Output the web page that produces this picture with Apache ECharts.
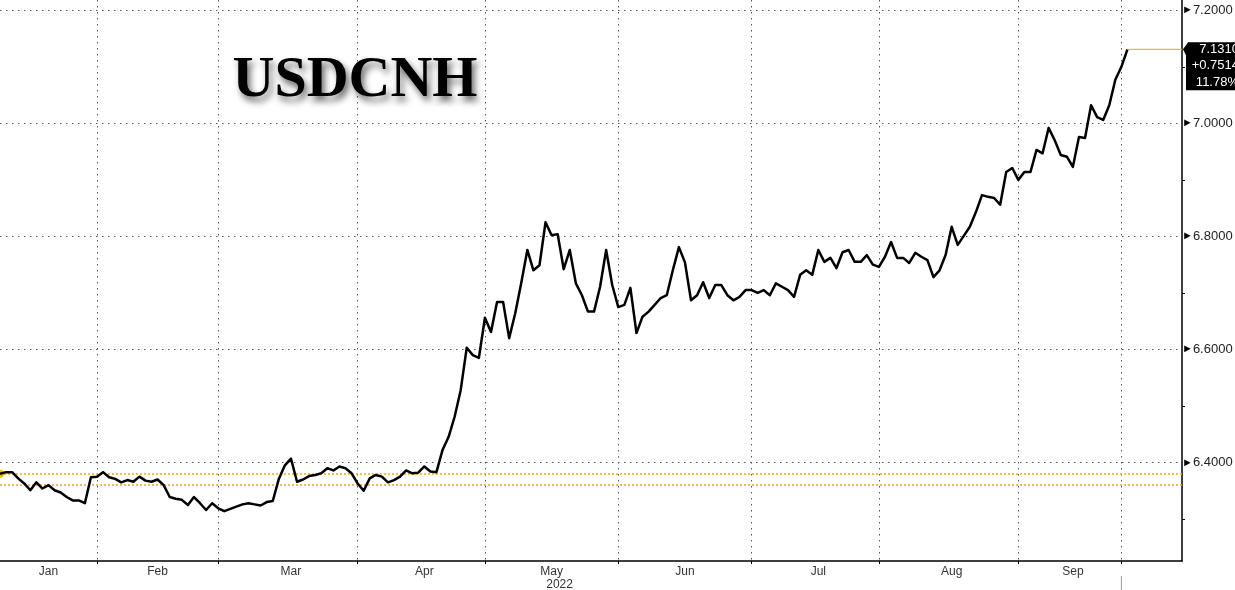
<!DOCTYPE html>
<html><head><meta charset="utf-8">
<script src="https://cdn.jsdelivr.net/npm/echarts@6/dist/echarts.min.js"></script>
<style>html,body{margin:0;padding:0;background:#fff}#c{width:1235px;height:590px}</style>
</head><body><div id="c"></div>
<script>
const chartTitle = 'USDCNH';
const yearLabel = '2022';
const startDate = '2022-01-10';
const totalSlots = 196;
const markerIndex = 185;
const monthNames = ['Jan','Feb','Mar','Apr','May','Jun','Jul','Aug','Sep','Oct','Nov','Dec'];
const values = [
6.380,6.383,6.383,6.372,6.363,6.351,6.365,6.354,6.360,6.351,
6.347,6.339,6.333,6.333,6.328,6.374,6.375,6.383,6.374,6.371,
6.365,6.369,6.366,6.375,6.368,6.366,6.370,6.360,6.339,6.336,
6.334,6.325,6.339,6.328,6.316,6.328,6.319,6.314,6.318,6.322,
6.326,6.328,6.326,6.324,6.330,6.332,6.371,6.395,6.407,6.366,
6.370,6.376,6.378,6.381,6.390,6.386,6.393,6.390,6.381,6.363,
6.350,6.372,6.378,6.375,6.365,6.369,6.375,6.386,6.381,6.382,
6.393,6.384,6.383,6.422,6.445,6.481,6.528,6.603,6.590,6.585,
6.656,6.631,6.684,6.684,6.620,6.664,6.718,6.776,6.740,6.749,
6.825,6.802,6.804,6.742,6.776,6.717,6.696,6.667,6.667,6.711,
6.776,6.714,6.675,6.679,6.709,6.629,6.658,6.667,6.679,6.691,
6.696,6.740,6.781,6.754,6.687,6.696,6.719,6.691,6.714,6.714,
6.696,6.687,6.693,6.705,6.705,6.700,6.705,6.696,6.717,6.711,
6.705,6.693,6.732,6.740,6.732,6.776,6.755,6.762,6.744,6.772,
6.776,6.755,6.755,6.767,6.750,6.746,6.764,6.790,6.762,6.762,
6.753,6.771,6.764,6.758,6.728,6.740,6.767,6.817,6.785,6.801,
6.817,6.843,6.873,6.870,6.868,6.856,6.914,6.921,6.900,6.914,
6.914,6.953,6.947,6.992,6.970,6.944,6.941,6.923,6.976,6.974,
7.032,7.011,7.006,7.032,7.077,7.100,7.131
];
const refLines = [6.3796, 6.3605];
const lastValueText = '7.1310';
const changeText = '+0.7514';
const pctText = '11.78%';
const yMajorTicks = [6.4, 6.6, 6.8, 7.0, 7.2];
const yMinorTicks = [6.3, 6.5, 6.7, 6.9, 7.1];
const yMin = 6.2258, yMax = 7.2182;

// weekday calendar
const dates = [];
{
  const d = new Date(startDate + 'T00:00:00Z');
  while (dates.length < totalSlots) {
    const w = d.getUTCDay();
    if (w !== 0 && w !== 6) dates.push(d.toISOString().slice(0, 10));
    d.setUTCDate(d.getUTCDate() + 1);
  }
}
const boundaries = new Set();
const labelMap = new Map();
{
  let s = 0;
  for (let i = 1; i <= dates.length; i++) {
    const changed = i === dates.length || dates[i].slice(5, 7) !== dates[i - 1].slice(5, 7);
    if (changed) {
      if (s < markerIndex) {
        const e = Math.min(i, markerIndex);
        const m = monthNames[parseInt(dates[s].slice(5, 7), 10) - 1];
        labelMap.set(Math.round((s + e) / 2), m);
        if (i < markerIndex) boundaries.add(i);
      }
      s = i;
    }
  }
  boundaries.add(markerIndex);
}
const lastIdx = values.length - 1;
const lastValue = values[lastIdx];

const dotted = { color: '#555', width: 1, type: [1.5, 4.5] };
const endLine = { color: '#e8c200', width: 1, type: 'solid' };
const chart = echarts.init(document.getElementById('c'), null, { renderer: 'canvas' });
chart.setOption({
  animation: false,
  backgroundColor: '#fff',
  textStyle: { fontFamily: '"Liberation Sans", Arial, sans-serif' },
  grid: { left: 0, right: 53, top: 0, bottom: 29, containLabel: false, outerBoundsMode: 'none' },
  xAxis: {
    type: 'category', data: dates, boundaryGap: false,
    axisLine: { lineStyle: { color: '#000', width: 1.5 } },
    axisTick: { interval: (i) => boundaries.has(i), length: 3, lineStyle: { color: '#000' } },
    axisLabel: {
      interval: (i) => labelMap.has(i),
      margin: 4, fontSize: 12, color: '#333', lineHeight: 13, hideOverlap: false,
      formatter: (v, i) => {
        const m = labelMap.get(i) || '';
        return m === 'May' ? m + '\n{yr|' + yearLabel + '}' : m;
      },
      rich: { yr: { fontSize: 12, color: '#333', padding: [0, 0, 0, 16], lineHeight: 13 } }
    },
    splitLine: { show: true, interval: (i) => boundaries.has(i), lineStyle: dotted }
  },
  yAxis: [
    {
      type: 'value', position: 'right', min: yMin, max: yMax,
      axisLine: { show: true, lineStyle: { color: '#000', width: 1.5 } },
      axisTick: { show: false, customValues: yMajorTicks },
      axisLabel: {
        customValues: yMajorTicks, margin: 0, fontSize: 13, color: '#222',
        formatter: (v) => '{t|\u25BA}' + Number(v).toFixed(4),
        rich: { t: { fontSize: 11, color: '#000', padding: [0, 0, 0, 0] } }
      },
      splitLine: { show: true, lineStyle: dotted }
    },
    {
      type: 'value', position: 'right', min: yMin, max: yMax,
      axisLine: { show: false },
      axisTick: { show: true, customValues: yMinorTicks, length: 3, lineStyle: { color: '#000' } },
      axisLabel: { show: false },
      splitLine: { show: false }
    }
  ],
  series: [{
    type: 'line', data: values, yAxisIndex: 0, showSymbol: false, symbol: 'none',
    lineStyle: { color: '#000', width: 2.5, join: 'round' }, z: 5,
    markLine: {
      silent: true, symbol: 'none', animation: false, label: { show: false },
      data: [
        { yAxis: refLines[0], lineStyle: { color: '#f0b000', width: 1.5, type: [2, 2] } },
        { yAxis: refLines[1], lineStyle: { color: '#f0a020', width: 1.5, type: [2, 2] } },
        [{ coord: [dates[lastIdx], lastValue], lineStyle: endLine },
         { coord: [dates[totalSlots - 1], lastValue], lineStyle: endLine }]
      ]
    },
    markPoint: {
      silent: true, symbol: 'circle', symbolSize: 8, label: { show: false },
      itemStyle: { color: '#e8c000' },
      data: [{ coord: [dates[0], values[0]] }]
    }
  }]
});

const py = chart.convertToPixel({ yAxisIndex: 0 }, lastValue);
const gx = chart.convertToPixel({ xAxisIndex: 0 }, dates[totalSlots - 1]);
const mx = chart.convertToPixel({ xAxisIndex: 0 }, dates[markerIndex]);
const axisY = chart.convertToPixel({ yAxisIndex: 0 }, yMin);
const boxFont = '13px "Liberation Sans", Arial, sans-serif';
chart.setOption({
  graphic: [
    { type: 'text', x: 355, y: 81, z: 100, style: {
      text: chartTitle, font: 'bold 58px "Liberation Serif", "Times New Roman", serif',
      fill: '#000', textAlign: 'center', textVerticalAlign: 'middle',
      textShadowColor: 'rgba(0,0,0,0.6)', textShadowBlur: 7, textShadowOffsetX: 3, textShadowOffsetY: 5 } },
    { type: 'polygon', z: 100, shape: { points: [
      [gx + 6, py - 7], [1235, py - 7], [1235, py + 41], [gx + 4, py + 41],
      [gx + 4, py + 6], [gx + 1, py], [gx + 4, py - 4]] }, style: { fill: '#000' } },
    { type: 'line', z: 99, shape: { x1: chart.convertToPixel({ xAxisIndex: 0 }, dates[lastIdx]), y1: py, x2: gx, y2: py }, style: { stroke: '#e8c200', lineWidth: 1 } },
    { type: 'text', z: 101, x: 1239, y: py, style: { text: lastValueText, font: boxFont, fill: '#fff', textAlign: 'right', textVerticalAlign: 'middle' } },
    { type: 'text', z: 101, x: 1239, y: py + 16, style: { text: changeText, font: boxFont, fill: '#fff', textAlign: 'right', textVerticalAlign: 'middle' } },
    { type: 'text', z: 101, x: 1239, y: py + 33, style: { text: pctText, font: boxFont, fill: '#fff', textAlign: 'right', textVerticalAlign: 'middle' } },
    { type: 'line', z: 100, shape: { x1: mx, y1: axisY + 15, x2: mx, y2: 590 }, style: { stroke: '#999', lineWidth: 1 } }
  ]
});
</script></body></html>
